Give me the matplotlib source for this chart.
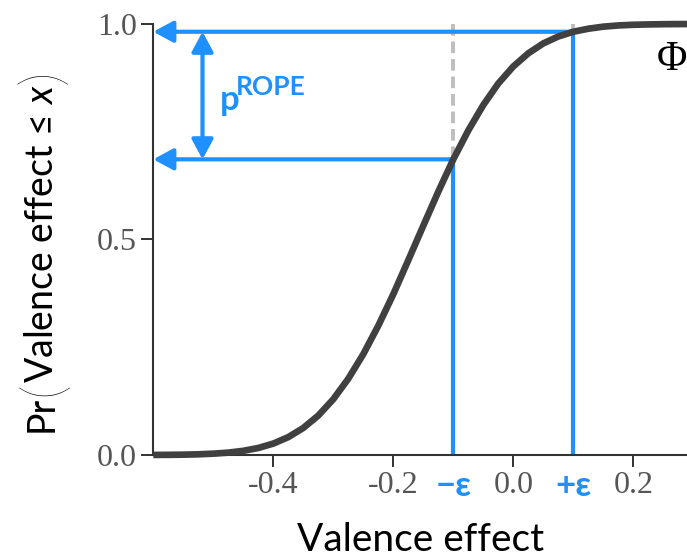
import matplotlib.pyplot as plt
from matplotlib.patches import FancyArrowPatch

# values
cdf_x = [-0.6, -0.575, -0.55, -0.525, -0.5, -0.475, -0.45, -0.425, -0.4, -0.375,
         -0.35, -0.325, -0.3, -0.275, -0.25, -0.225, -0.2, -0.175, -0.15, -0.125,
         -0.1, -0.075, -0.05, -0.025, 0.0, 0.025, 0.05, 0.075, 0.1, 0.125,
         0.15, 0.175, 0.2, 0.225, 0.25, 0.275, 0.3]
cdf_y = [0.0002, 0.0004, 0.0008, 0.0016, 0.0031, 0.0055, 0.0097, 0.0163, 0.0265, 0.0415,
         0.0628, 0.0916, 0.1295, 0.177, 0.234, 0.300, 0.373, 0.452, 0.532, 0.611,
         0.686, 0.753, 0.812, 0.862, 0.9015, 0.932, 0.955, 0.971, 0.982, 0.989,
         0.9938, 0.9966, 0.9982, 0.9990, 0.9995, 0.9998, 0.9999]
rope_x = [-0.1, 0.1]
rope_p = [0.686, 0.982]
rope_labels = ['\u2212\u03b5', '+\u03b5']
x_ticks = [-0.4, -0.2, 0.0, 0.2]
x_ticklabels = ['-0.4', '-0.2', '0.0', '0.2']
y_ticks = [0.0, 0.5, 1.0]
y_ticklabels = ['0.0', '0.5', '1.0']

blue = '#1E90FF'
curve_col = '#404040'
sans = ['Lato', 'DejaVu Sans']

plt.rcParams['font.family'] = ['Liberation Serif', 'DejaVu Serif']
plt.rcParams['axes.unicode_minus'] = False
plt.rcParams['mathtext.fontset'] = 'custom'
plt.rcParams['mathtext.rm'] = 'Lato'
plt.rcParams['mathtext.it'] = 'Lato:italic'

W, H = 687, 556
fig = plt.figure(figsize=(W / 100, H / 100), dpi=100)
ax = fig.add_axes([153.3 / W, 101 / H, 1 - 153.3 / W, 469.8 / H])
ax.set_xlim(-0.6, 0.2895)
ax.set_ylim(0, 1.09)

# dashed guides behind everything
for x in rope_x:
    ax.plot([x, x], [1.0, 0.0], color='#bebebe', lw=2.8, dashes=(3, 1.5), zorder=1)

# blue verticals from the axis up to the curve, arrows to the y axis
for x, p in zip(rope_x, rope_p):
    ax.plot([x, x], [0, p], color=blue, lw=3, solid_capstyle='butt', zorder=2)
    arr = FancyArrowPatch((x, p), (-0.6, p), arrowstyle='-|>,head_length=12,head_width=6.5',
                          mutation_scale=1, lw=3, color=blue, shrinkA=0, shrinkB=0,
                          zorder=2, clip_on=False)
    ax.add_patch(arr)

# double arrow for p^ROPE
arr = FancyArrowPatch((-0.518, rope_p[0]), (-0.518, rope_p[1]),
                      arrowstyle='<|-|>,head_length=12,head_width=6.5',
                      mutation_scale=1, lw=3, color=blue, shrinkA=0, shrinkB=0, zorder=2)
ax.add_patch(arr)
ax.text(-0.489, 0.80, 'p', color=blue, fontsize=25, fontweight='bold', family='Lato')
ax.text(-0.462, 0.835, 'ROPE', color=blue, fontsize=19, fontweight='bold', family='Lato')

# the CDF curve
ax.plot(cdf_x, cdf_y, color=curve_col, lw=4.8, clip_on=False, zorder=3,
        solid_capstyle='butt')
ax.text(0.2395, 0.893, '\u03a6', family='Liberation Serif', fontsize=30,
        color='black', va='baseline', clip_on=False)

# epsilon labels under the axis
for x, lab in zip(rope_x, rope_labels):
    ax.annotate(lab, xy=(x, 0), xytext=(0, -22), textcoords='offset points',
                ha='center', va='center', color=blue, fontsize=25, fontweight='bold',
                family=sans, annotation_clip=False)

ax.set_xticks(x_ticks)
ax.set_xticklabels(x_ticklabels)
ax.set_yticks(y_ticks)
ax.set_yticklabels(y_ticklabels)
ax.tick_params(length=8.6, width=1.4, color='#333333', labelcolor='#555555',
               labelsize=23)
ax.tick_params(axis='x', pad=3)
ax.tick_params(axis='y', pad=3)

for s in ['top', 'right']:
    ax.spines[s].set_visible(False)
ax.spines['left'].set_bounds(0, 1)
for s in ['left', 'bottom']:
    ax.spines[s].set_linewidth(1.5)
    ax.spines[s].set_color('#333333')

fig.text(421 / W, 5 / H, 'Valence effect', family=sans, fontsize=28,
         ha='center', va='baseline')

# y title built from pieces so the brackets can be tall
r = fig.canvas.get_renderer()
base_x = 53 / W
paren_x = 44 / W
cursor = 556 - 432  # pixels from bottom where the title starts
pieces = [('Pr', 27, 'normal', 0), ('(', 42, 'light', -2),
          ('Valence effect \u2264 $\\mathit{x}$', 27, 'normal', 0), (')', 42, 'light', 0)]
for txt, size, weight, gap in pieces:
    if txt in '()':
        t = fig.text(paren_x, cursor / H, txt, rotation=90, rotation_mode='anchor',
                     ha='left', va='center', fontsize=size, fontweight=weight, family=sans)
    else:
        t = fig.text(base_x, cursor / H, txt, rotation=90, rotation_mode='anchor',
                     ha='left', va='baseline', fontsize=size, fontweight=weight, family=sans)
    bb = t.get_window_extent(r)
    cursor = bb.y1 + gap

fig.savefig('out.png', dpi=100)
